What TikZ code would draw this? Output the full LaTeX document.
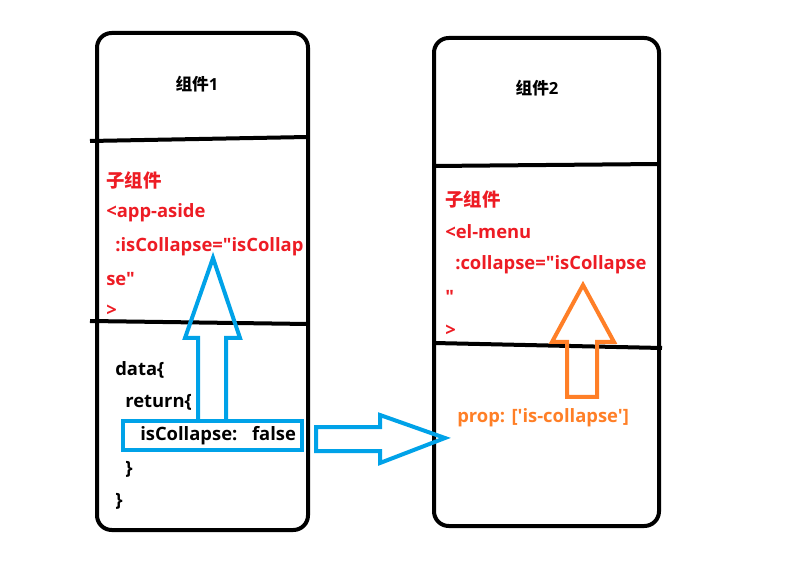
\documentclass[tikz,border=0pt]{standalone}
\usepackage{fontspec}
\setmainfont{Open Sans}[Ligatures=TeXOff]
\newfontfamily\cjk{Noto Sans CJK SC}
\definecolor{pred}{RGB}{237,28,36}
\definecolor{porange}{RGB}{255,127,39}
\definecolor{pblue}{RGB}{0,162,232}
\begin{document}
\begin{tikzpicture}[x=0.75pt,y=-0.75pt,
  frame/.style={draw=black,line width=3pt,rounded corners=11pt},
  divider/.style={draw=black,line width=3pt},
  txt/.style={anchor=west,inner sep=0pt,font=\bfseries\fontsize{13.8}{16}\selectfont},
  redtxt/.style={txt,text=pred},
  title/.style={inner sep=0pt,font=\bfseries\fontsize{12.5}{14}\selectfont},
  bluearrow/.style={draw=pblue,line width=3pt,line join=miter},
  orangearrow/.style={draw=porange,line width=3pt,line join=miter}]
\useasboundingbox (0,0) rectangle (803,566);
% component frames
\draw[frame] (97,33) rectangle (308,530);
\draw[frame] (434,38) rectangle (659,526);
\draw[divider] (90,141) -- (308,137);
\draw[divider] (90,321) -- (308,324);
\draw[divider] (434,166) -- (659,164);
\draw[divider] (434,343) -- (662,348);
% titles
\node[title] (t1) at (197,84) {{\cjk\bfseries 组件}1};
\node[title] (t2) at (537,88) {{\cjk\bfseries 组件}2};
% component 1 child
\node[redtxt] (a1) at (106,180) {{\cjk\bfseries 子组件}};
\node[redtxt] (a2) at (106,213) {<app-aside};
\node[redtxt] (a3) at (115,247) {:isCollapse="isCollap};
\node[redtxt] (a4) at (106,279) {se"};
\node[redtxt] (a5) at (106,311) {>};
% component 1 data
\node[txt] (d1) at (115,370) {data\{};
\node[txt] (d2) at (125,402) {return\{};
\node[txt] (d3) at (140,436) {isCollapse:\hspace{11pt}false};
\node[txt] (d4) at (125,469) {\}};
\node[txt] (d5) at (115,501) {\}};
% component 2 child
\node[redtxt] (b1) at (445,199) {{\cjk\bfseries 子组件}};
\node[redtxt] (b2) at (445,232) {<el-menu};
\node[redtxt] (b3) at (455,265) {:collapse="isCollapse};
\node[redtxt] (b4) at (445,297) {"};
\node[redtxt] (b5) at (445,331) {>};
\node[txt,text=porange] (p1) at (457,418) {prop: ['is-collapse']};
% highlight box
\draw[pblue,line width=3pt] (123,421) rectangle (302,450);
% arrows
\draw[bluearrow] (198,421) -- (198,338) -- (185,338) -- (213,258) -- (240,338) -- (226,338) -- (226,421);
\draw[bluearrow] (316,427) -- (380,427) -- (380,415) -- (445,438) -- (380,463) -- (380,451) -- (316,451) -- cycle;
\draw[orangearrow] (567,397) -- (567,342) -- (552,342) -- (583,285) -- (614,342) -- (597,342) -- (597,397) -- cycle;
\end{tikzpicture}
\end{document}
